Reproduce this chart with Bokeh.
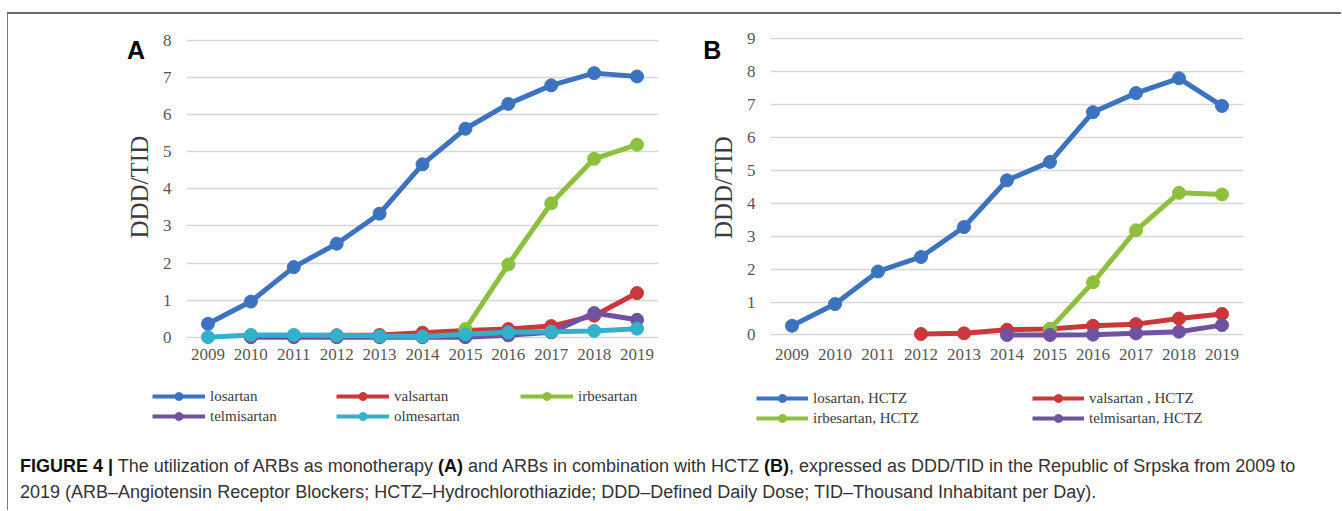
import numpy as np
from bokeh.plotting import figure
from bokeh.models import (Range1d, FixedTicker, Legend, LegendItem, Div,
                          ColumnDataSource)
from bokeh.core.properties import value
from bokeh.layouts import row, column
from bokeh.embed import file_html
from bokeh.resources import INLINE

# ---------------- data ----------------
years = [2009, 2010, 2011, 2012, 2013, 2014, 2015, 2016, 2017, 2018, 2019]

# Panel A: ARBs as monotherapy (DDD/TID)
a_losartan = [0.36, 0.96, 1.89, 2.52, 3.33, 4.66, 5.62, 6.29, 6.79, 7.12, 7.03]
a_valsartan = [None, 0.03, 0.04, 0.05, 0.06, 0.12, 0.18, 0.22, 0.30, 0.58, 1.19]
a_irbesartan = [None, None, None, None, None, None, 0.22, 1.96, 3.61, 4.81, 5.19]
a_telmisartan = [None, 0.0, 0.0, 0.0, 0.0, 0.0, 0.0, 0.05, 0.13, 0.65, 0.47]
a_olmesartan = [0.0, 0.06, 0.06, 0.05, 0.03, 0.02, 0.08, 0.13, 0.15, 0.17, 0.23]
a_names = ["losartan", "valsartan", "irbesartan", "telmisartan", "olmesartan"]

# Panel B: ARBs in combination with HCTZ (DDD/TID)
b_losartan = [0.28, 0.94, 1.93, 2.37, 3.28, 4.70, 5.26, 6.77, 7.35, 7.80, 6.96]
b_valsartan = [None, None, None, 0.03, 0.05, 0.16, 0.18, 0.28, 0.33, 0.50, 0.64]
b_irbesartan = [None, None, None, None, None, None, 0.18, 1.60, 3.18, 4.32, 4.27]
b_telmisartan = [None, None, None, None, None, 0.0, 0.0, 0.01, 0.05, 0.10, 0.30]
b_names = ["losartan, HCTZ", "valsartan , HCTZ", "irbesartan, HCTZ", "telmisartan, HCTZ"]

a_ticks = [0, 1, 2, 3, 4, 5, 6, 7, 8]
b_ticks = [0, 1, 2, 3, 4, 5, 6, 7, 8, 9]
y_title = "DDD/TID"

COL_BLUE = "#3b73c0"
COL_RED = "#ca383b"
COL_GREEN = "#8ec03f"
COL_PURPLE = "#7052a2"
COL_CYAN = "#33b0ca"
a_colors = [COL_BLUE, COL_RED, COL_GREEN, COL_PURPLE, COL_CYAN]
b_colors = [COL_BLUE, COL_RED, COL_GREEN, COL_PURPLE]

SERIF = "Liberation Serif"
SANS = "Liberation Sans"

# shared vertical layout of the plot row (all figures share the same borders)
ROW_H = 370
BORDER_TOP = 6
BORDER_BOTTOM = 40


def to_arr(vals):
    return np.array([np.nan if v is None else v for v in vals], dtype=float)


def make_plot(series, colors, ticks, y0, y1, width, mbl, mbr, xstand, ystand):
    p = figure(width=width, height=ROW_H,
               x_range=Range1d(2008.5, 2019.5), y_range=Range1d(y0, y1),
               output_backend="svg", toolbar_location=None,
               min_border_left=mbl, min_border_right=mbr,
               min_border_top=BORDER_TOP, min_border_bottom=BORDER_BOTTOM)
    p.outline_line_color = None
    p.border_fill_color = "white"
    p.background_fill_color = "white"
    p.xaxis.ticker = FixedTicker(ticks=years)
    p.yaxis.ticker = FixedTicker(ticks=ticks)
    for ax in (p.xaxis[0], p.yaxis[0]):
        ax.axis_line_color = None
        ax.major_tick_line_color = None
        ax.minor_tick_line_color = None
        ax.major_tick_out = 0
        ax.major_tick_in = 0
        ax.major_label_text_font = SERIF
        ax.major_label_text_font_size = "17px"
        ax.major_label_text_color = "#575757"
    p.xaxis.major_label_standoff = xstand
    p.yaxis.major_label_standoff = ystand
    p.xgrid.visible = False
    p.ygrid.grid_line_color = "#d6d6d6"
    p.ygrid.grid_line_width = 1.5
    for vals, col in zip(series, colors):
        src = ColumnDataSource(dict(x=years, y=to_arr(vals)))
        p.line("x", "y", source=src, line_color=col, line_width=5)
        p.scatter("x", "y", source=src, size=13, fill_color=col, line_color=col)
    return p


def make_side(width, letter, lx, ly, tx, ty):
    # panel letter and rotated y-axis title; y measured downward from the top of the row
    frame_top = BORDER_TOP
    frame_bottom = ROW_H - BORDER_BOTTOM
    s = figure(width=width, height=ROW_H, x_range=Range1d(0, width),
               y_range=Range1d(-frame_bottom, -frame_top), output_backend="svg",
               toolbar_location=None, x_axis_type=None, y_axis_type=None,
               min_border_left=0, min_border_right=0,
               min_border_top=BORDER_TOP, min_border_bottom=BORDER_BOTTOM)
    s.outline_line_color = None
    s.xgrid.visible = False
    s.ygrid.visible = False
    s.text(x=[lx], y=[-ly], text=[letter], text_font=value(SANS),
           text_font_style="bold", text_font_size="25px", text_color="black",
           text_align="center", text_baseline="alphabetic")
    s.text(x=[tx], y=[-ty], text=[y_title], text_font=value(SERIF),
           text_font_size="25px", text_color="#3c3c3c", angle=np.pi / 2,
           text_align="center", text_baseline="middle")
    return s


def make_legend(names, colors, width, height, loc, ncols, glyph_w, stand, label_w):
    f = figure(width=width, height=height, x_range=Range1d(0, 1),
               y_range=Range1d(0, 1), output_backend="svg",
               toolbar_location=None, x_axis_type=None, y_axis_type=None,
               min_border=0)
    f.outline_line_color = None
    f.xgrid.visible = False
    f.ygrid.visible = False
    items = []
    for name, col in zip(names, colors):
        src = ColumnDataSource(dict(x=[np.nan], y=[np.nan]))
        ln = f.line("x", "y", source=src, line_color=col, line_width=4)
        sc = f.scatter("x", "y", source=src, size=9, fill_color=col, line_color=col)
        items.append(LegendItem(label=name, renderers=[ln, sc]))
    leg = Legend(items=items, location=loc, orientation="horizontal",
                 ncols=ncols, glyph_width=glyph_w, glyph_height=20,
                 label_height=20, label_width=label_w, label_standoff=stand,
                 spacing=0, padding=0, margin=0, border_line_color=None,
                 background_fill_alpha=0, label_text_font=SERIF,
                 label_text_font_size="15px", label_text_color="#3c3c3c")
    f.add_layout(leg, "center")
    return f


# panel A  (row starts at page x = 8, y = 14)
sideA = make_side(151, "A", 127.5, 35, 131, 172.7)
pA = make_plot([a_losartan, a_valsartan, a_irbesartan, a_telmisartan, a_olmesartan],
               a_colors, a_ticks, -0.197, 8.539, 531, 24, 32, 4, 15)
legA = make_legend(a_names, a_colors, 682, 56, (144, 14), 3, 53, 5, 126)

# panel B
sideB = make_side(53, "B", 21.7, 35, 32.6, 173.2)
pB = make_plot([b_losartan, b_valsartan, b_irbesartan, b_telmisartan],
               b_colors, b_ticks, -0.289, 9.556, 590, 24, 90, 4, 15)
legB = make_legend(b_names, b_colors, 640, 56, (66, 12), 2, 52, 5, 219)

caption_html = (
    '<div style="font-family: \'Liberation Sans\', Arial, sans-serif; font-size: 18px; '
    'line-height: 26px; color: #333333; padding: 13px 0 0 12px; white-space: nowrap;">'
    '<b style="color:#111">FIGURE 4 |</b> The utilization of ARBs as monotherapy '
    '<b style="color:#111">(A)</b> and ARBs in combination with HCTZ '
    '<b style="color:#111">(B)</b>, expressed as DDD/TID in the Republic of Srpska '
    'from 2009 to<br>2019 (ARB\u2013Angiotensin Receptor Blockers; '
    'HCTZ\u2013Hydrochlorothiazide; DDD\u2013Defined Daily Dose; '
    'TID\u2013Thousand Inhabitant per Day).</div>'
)
caption = Div(text=caption_html, width=1333, height=70, margin=0,
              styles={"overflow": "hidden"})

layout = column(row(sideA, pA, sideB, pB), row(legA, legB), caption,
                margin=(12, 0, 0, 7),
                styles={"border-top": "2px solid #6a6a6a",
                        "border-left": "1px solid #7a7a7a"})

open("out.html", "w").write(file_html(layout, INLINE))
